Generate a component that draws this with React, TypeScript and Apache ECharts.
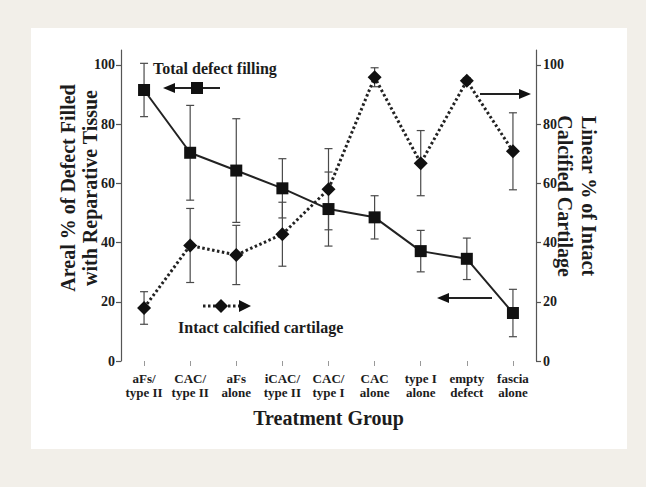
import React, { useEffect, useRef } from "react";
import * as echarts from "echarts";

const categories = [
  "aFs/\ntype II",
  "CAC/\ntype II",
  "aFs\nalone",
  "iCAC/\ntype II",
  "CAC/\ntype I",
  "CAC\nalone",
  "type I\nalone",
  "empty\ndefect",
  "fascia\nalone",
];
const fillingValues = [91.5, 70.3, 64.3, 58.3, 51.3, 48.5, 37.1, 34.5, 16.2];
const fillingErrors = [9, 16, 17.5, 10, 12.5, 7.3, 7, 7, 8];
const intactValues = [17.9, 39, 35.8, 42.8, 58, 95.8, 66.8, 94.6, 70.8];
const intactErrors = [5.5, 12.5, 10, 10.8, 13.7, 3.2, 11, 1, 13];
const tickValues = [0, 20, 40, 60, 80, 100];

const FONT = '"Liberation Serif", "Times New Roman", serif';
const INK = "#1c1c1c";

function errorRender(params: any, api: any) {
  const i = api.value(0);
  const lo = api.coord([i, api.value(1)]);
  const hi = api.coord([i, api.value(2)]);
  const w = 4;
  const style = { stroke: "#4a4a4a", lineWidth: 1.2 };
  return {
    type: "group",
    children: [
      { type: "line", shape: { x1: lo[0], y1: lo[1], x2: hi[0], y2: hi[1] }, style },
      { type: "line", shape: { x1: lo[0] - w, y1: lo[1], x2: lo[0] + w, y2: lo[1] }, style },
      { type: "line", shape: { x1: hi[0] - w, y1: hi[1], x2: hi[0] + w, y2: hi[1] }, style },
    ],
  };
}

export default function App() {
  const ref = useRef<HTMLDivElement>(null);
  useEffect(() => {
    if (!ref.current) return;
    const chart = echarts.init(ref.current, null, { renderer: "svg" });
    const fillErr = fillingValues.map((v, i) => [i, v - fillingErrors[i], v + fillingErrors[i]]);
    const intErr = intactValues.map((v, i) => [i, v - intactErrors[i], v + intactErrors[i]]);

    const yAxisCommon = {
      type: "value",
      min: 0,
      max: 105,
      interval: 20,
      splitLine: { show: false },
      axisLine: { show: true, lineStyle: { color: "#555", width: 1.2 } },
      axisTick: { show: true, length: 5, customValues: tickValues, lineStyle: { color: "#555", width: 1.2 } },
    };

    chart.setOption({
      animation: false,
      backgroundColor: "#f2efe9",
      grid: { left: 121, right: 110, top: 50, bottom: 126 },
      xAxis: {
        type: "category",
        data: categories,
        axisLine: { show: false },
        axisTick: { show: true, alignWithLabel: true, length: 5, lineStyle: { color: "#999", width: 1 } },
        axisLabel: {
          interval: 0,
          margin: 10,
          fontFamily: FONT,
          fontWeight: "bold",
          fontSize: 13,
          lineHeight: 14,
          color: INK,
        },
        name: "Treatment Group",
        nameLocation: "middle",
        nameGap: 47,
        nameTextStyle: { fontFamily: FONT, fontWeight: "bold", fontSize: 20, color: INK },
      },
      yAxis: [
        {
          ...yAxisCommon,
          position: "left",
          axisLabel: {
            customValues: tickValues,
            margin: 6,
            fontFamily: FONT,
            fontWeight: "bold",
            fontSize: 14,
            color: INK,
          },
        },
        {
          ...yAxisCommon,
          position: "right",
          axisLabel: {
            customValues: tickValues,
            margin: 7,
            fontFamily: FONT,
            fontWeight: "bold",
            fontSize: 14,
            color: INK,
          },
        },
      ],
      series: [
        {
          type: "custom",
          name: "filling error",
          xAxisIndex: 0,
          yAxisIndex: 0,
          renderItem: errorRender,
          encode: { x: 0, y: [1, 2] },
          data: fillErr,
          z: 1,
        },
        {
          type: "custom",
          name: "intact error",
          xAxisIndex: 0,
          yAxisIndex: 1,
          renderItem: errorRender,
          encode: { x: 0, y: [1, 2] },
          data: intErr,
          z: 1,
        },
        {
          type: "line",
          name: "Total defect filling",
          yAxisIndex: 0,
          data: fillingValues,
          symbol: "rect",
          symbolSize: 12,
          showAllSymbol: true,
          itemStyle: { color: "#111" },
          lineStyle: { color: "#222", width: 2 },
          z: 3,
        },
        {
          type: "line",
          name: "Intact calcified cartilage",
          yAxisIndex: 1,
          data: intactValues,
          symbol: "diamond",
          symbolSize: 14,
          showAllSymbol: true,
          itemStyle: { color: "#111" },
          lineStyle: { color: "#222", width: 3, type: [2.5, 2.5] },
          z: 3,
        },
      ],
      graphic: [
        { type: "rect", z: -10, silent: true, shape: { x: 31, y: 28, width: 596, height: 421 }, style: { fill: "#ffffff" } },
        {
          type: "text",
          x: 79,
          y: 188,
          rotation: Math.PI / 2,
          style: {
            text: "Areal % of Defect Filled\nwith Reparative Tissue",
            font: `bold 20px ${FONT}`,
            fill: INK,
            align: "center",
            verticalAlign: "middle",
            lineHeight: 22,
          },
        },
        {
          type: "text",
          x: 577,
          y: 196,
          rotation: -Math.PI / 2,
          style: {
            text: "Linear % of Intact\nCalcified Cartilage",
            font: `bold 20px ${FONT}`,
            fill: INK,
            align: "center",
            verticalAlign: "middle",
            lineHeight: 24,
          },
        },
        {
          type: "text",
          x: 153,
          y: 68,
          style: { text: "Total defect filling", font: `bold 16px ${FONT}`, fill: INK, align: "left", verticalAlign: "middle" },
        },
        {
          type: "text",
          x: 178,
          y: 327,
          style: { text: "Intact calcified cartilage", font: `bold 16px ${FONT}`, fill: INK, align: "left", verticalAlign: "middle" },
        },
        // filling legend: arrow left with square
        { type: "line", shape: { x1: 172, y1: 88, x2: 220, y2: 88 }, style: { stroke: "#222", lineWidth: 2 } },
        { type: "polygon", shape: { points: [[163, 88], [175, 83], [175, 93]] }, style: { fill: "#111" } },
        { type: "rect", shape: { x: 191, y: 82, width: 12, height: 12 }, style: { fill: "#111" } },
        // intact legend: dotted with diamond, arrow right
        { type: "line", shape: { x1: 203, y1: 306, x2: 241, y2: 306 }, style: { stroke: "#222", lineWidth: 3, lineDash: [2.5, 2.5] } },
        { type: "polygon", shape: { points: [[221, 299], [228, 306], [221, 313], [214, 306]] }, style: { fill: "#111" } },
        { type: "polygon", shape: { points: [[251, 306], [239, 300], [239, 312]] }, style: { fill: "#111" } },
        // arrow to right axis
        { type: "line", shape: { x1: 480, y1: 94, x2: 522, y2: 94 }, style: { stroke: "#222", lineWidth: 2 } },
        { type: "polygon", shape: { points: [[531, 94], [519, 89], [519, 99]] }, style: { fill: "#111" } },
        // arrow to left axis
        { type: "line", shape: { x1: 446, y1: 298, x2: 492, y2: 298 }, style: { stroke: "#222", lineWidth: 2 } },
        { type: "polygon", shape: { points: [[437, 298], [449, 293], [449, 303]] }, style: { fill: "#111" } },
      ],
    });
    return () => chart.dispose();
  }, []);
  return (
    <div
      ref={ref}
      style={{ position: "fixed", left: 0, top: 0, width: 646, height: 487 }}
    />
  );
}
